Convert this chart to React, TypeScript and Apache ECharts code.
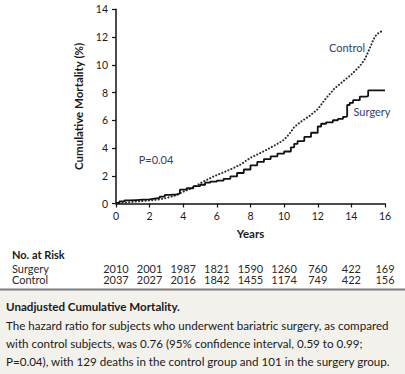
import React, { useEffect, useRef } from "react";
import * as echarts from "echarts";

// ---- data ----
const xTicks = [0, 2, 4, 6, 8, 10, 12, 14, 16];
const yTicks = [0, 2, 4, 6, 8, 10, 12, 14];

const surgeryYears = [0, 0.2, 0.5, 0.8, 1.2, 1.6, 2.0, 2.3, 2.6, 2.9, 3.2, 3.6, 3.75, 3.8, 4.2, 4.6, 5.0, 5.3, 5.6, 6.0, 6.4, 6.8, 7.2, 7.6, 8.0, 8.4, 8.8, 9.2, 9.6, 10.0, 10.4, 10.6, 10.8, 11.2, 11.6, 12.0, 12.2, 12.5, 12.9, 13.2, 13.5, 13.7, 13.75, 13.9, 14.1, 14.5, 14.9, 15.0, 16.0];
const surgeryValues = [0.05, 0.15, 0.22, 0.25, 0.28, 0.3, 0.35, 0.4, 0.5, 0.62, 0.65, 0.7, 0.75, 1.0, 1.1, 1.25, 1.35, 1.5, 1.58, 1.65, 1.78, 1.95, 2.2, 2.45, 2.75, 3.0, 3.2, 3.4, 3.6, 3.75, 4.05, 4.3, 4.5, 4.8, 5.1, 5.55, 5.75, 5.85, 6.0, 6.1, 6.25, 6.3, 7.1, 7.25, 7.45, 7.7, 7.75, 8.15, 8.15];

const controlYears = [0, 0.4, 1.0, 1.6, 2.0, 2.6, 3.0, 3.6, 4.0, 4.6, 5.0, 5.4, 5.8, 6.2, 6.8, 7.4, 8.0, 8.6, 9.0, 9.6, 10.0, 10.3, 10.6, 11.0, 11.5, 12.0, 12.5, 13.0, 13.5, 14.0, 14.5, 14.8, 15.1, 15.3, 15.5, 15.9];
const controlValues = [0, 0.05, 0.12, 0.18, 0.22, 0.3, 0.4, 0.6, 0.85, 1.15, 1.45, 1.7, 1.95, 2.15, 2.45, 2.8, 3.3, 3.65, 3.9, 4.3, 4.6, 5.0, 5.5, 5.9, 6.3, 6.8, 7.6, 8.3, 8.8, 9.3, 9.9, 10.4, 11.2, 11.8, 12.2, 12.5];

const riskYears = [0, 2, 4, 6, 8, 10, 12, 14, 16];
const surgeryAtRisk = [2010, 2001, 1987, 1821, 1590, 1260, 760, 422, 169];
const controlAtRisk = [2037, 2027, 2016, 1842, 1455, 1174, 749, 422, 156];

const captionTitle = "Unadjusted Cumulative Mortality.";
const captionLines = [
  "The hazard ratio for subjects who underwent bariatric surgery, as compared",
  "with control subjects, was 0.76 (95% confidence interval, 0.59 to 0.99;",
  "P=0.04), with 129 deaths in the control group and 101 in the surgery group.",
];

const FONT = "Lato, 'Noto Sans', sans-serif";

export default function App() {
  const ref = useRef<HTMLDivElement>(null);
  useEffect(() => {
    if (!ref.current) return;
    const chart = echarts.init(ref.current, undefined, { renderer: "svg" });
    const gridLeft = 116;
    const gridTop = 9.3;
    const gridWidth = 269;
    const gridHeight = 194.2;
    const xMax = 16;
    const xPix = (yr: number) => gridLeft + (yr / xMax) * gridWidth;

    const riskTexts: any[] = [];
    riskYears.forEach((yr, i) => {
      riskTexts.push({
        type: "text",
        x: xPix(yr),
        y: 268,
        style: { text: String(surgeryAtRisk[i]), font: `11px ${FONT}`, fill: "#2a2a2a", align: "center", verticalAlign: "middle" },
      });
      riskTexts.push({
        type: "text",
        x: xPix(yr),
        y: 279.5,
        style: { text: String(controlAtRisk[i]), font: `11px ${FONT}`, fill: "#2a2a2a", align: "center", verticalAlign: "middle" },
      });
    });

    chart.setOption({
      animation: false,
      backgroundColor: "#ffffff",
      grid: { left: gridLeft, top: gridTop, width: gridWidth, height: gridHeight, containLabel: false },
      xAxis: {
        type: "value",
        min: 0,
        max: xMax,
        interval: 2,
        name: "Years",
        nameLocation: "middle",
        nameGap: 24,
        nameTextStyle: { fontFamily: FONT, fontWeight: "bold", fontSize: 11.5, color: "#1a1a1a" },
        axisLine: { show: true, lineStyle: { color: "#111", width: 1.5 } },
        axisTick: { show: true, length: 4, lineStyle: { color: "#111", width: 1.2 } },
        axisLabel: { fontFamily: FONT, fontSize: 10.5, color: "#1a1a1a", margin: 7, formatter: (v: number) => (xTicks.includes(v) ? String(v) : "") },
        splitLine: { show: false },
      },
      yAxis: {
        type: "value",
        min: 0,
        max: 14,
        interval: 2,
        name: "Cumulative Mortality (%)",
        nameLocation: "middle",
        nameGap: 32,
        nameTextStyle: { fontFamily: FONT, fontWeight: "bold", fontSize: 11.5, color: "#1a1a1a" },
        axisLine: { show: true, lineStyle: { color: "#111", width: 1.5 } },
        axisTick: { show: true, length: 4, lineStyle: { color: "#111", width: 1.2 } },
        axisLabel: { fontFamily: FONT, fontSize: 10.5, color: "#1a1a1a", margin: 8, formatter: (v: number) => (yTicks.includes(v) ? String(v) : "") },
        splitLine: { show: false },
      },
      series: [
        {
          name: "Control",
          type: "line",
          data: controlYears.map((x, i) => [x, controlValues[i]]),
          showSymbol: false,
          symbol: "none",
          lineStyle: { color: "#2a2a2a", width: 2, type: [0.1, 3.2], cap: "round" },
          z: 2,
        },
        {
          name: "Surgery",
          type: "line",
          step: "end",
          data: surgeryYears.map((x, i) => [x, surgeryValues[i]]),
          showSymbol: false,
          symbol: "none",
          lineStyle: { color: "#111", width: 1.8 },
          z: 3,
        },
      ],
      graphic: [
        { type: "text", x: 347, y: 47, style: { text: "Control", font: `11px ${FONT}`, fill: "#34406a", align: "center", verticalAlign: "middle" } },
        { type: "text", x: 372, y: 111, style: { text: "Surgery", font: `11px ${FONT}`, fill: "#34406a", align: "center", verticalAlign: "middle" } },
        { type: "text", x: 156, y: 159, style: { text: "P=0.04", font: `11px ${FONT}`, fill: "#34406a", align: "center", verticalAlign: "middle" } },
        { type: "text", x: 12, y: 254.5, style: { text: "No. at Risk", font: `bold 11px ${FONT}`, fill: "#1a1a1a", align: "left", verticalAlign: "middle" } },
        { type: "text", x: 12, y: 268, style: { text: "Surgery", font: `11px ${FONT}`, fill: "#2a2a2a", align: "left", verticalAlign: "middle" } },
        { type: "text", x: 12, y: 279.5, style: { text: "Control", font: `11px ${FONT}`, fill: "#2a2a2a", align: "left", verticalAlign: "middle" } },
        ...riskTexts,
        { type: "rect", shape: { x: 0, y: 289, width: 405, height: 85 }, style: { fill: "#f3f1ec" }, z: 0 },
        { type: "line", shape: { x1: 0, y1: 289.5, x2: 405, y2: 289.5 }, style: { stroke: "#7d7d7d", lineWidth: 2 } },
        { type: "text", x: 6, y: 306, style: { text: captionTitle, font: `bold 11.6px ${FONT}`, fill: "#1a1a1a", align: "left", verticalAlign: "middle" } },
        ...captionLines.map((t, i) => ({
          type: "text",
          x: 6,
          y: 325 + i * 18,
          style: { text: t, font: `11.6px ${FONT}`, fill: "#1a1a1a", align: "left", verticalAlign: "middle" },
        })),
      ],
    });
    return () => chart.dispose();
  }, []);
  return <div ref={ref} style={{ position: "fixed", left: 0, top: 0, width: 405, height: 374 }} />;
}
